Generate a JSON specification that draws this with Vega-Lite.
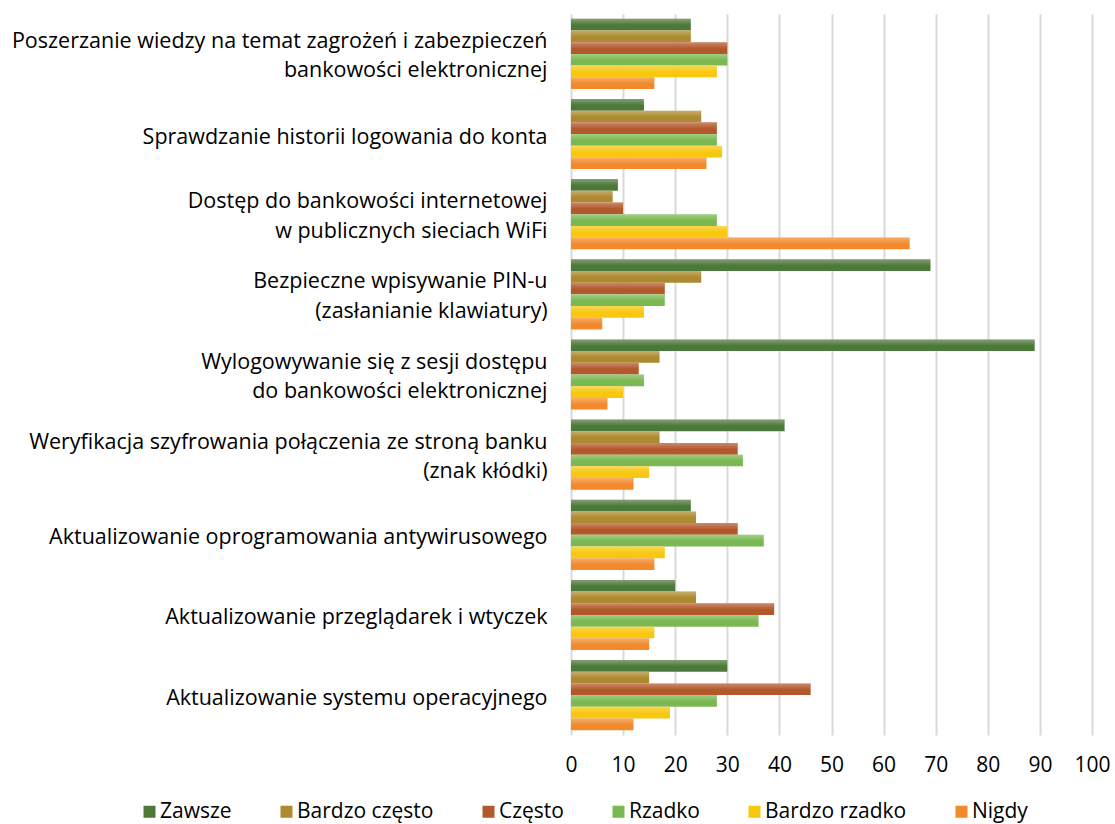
{
  "$schema": "https://vega.github.io/schema/vega-lite/v6.json",
  "width": 521,
  "height": 721,
  "autosize": "none",
  "padding": {"left": 571, "top": 14, "right": 23, "bottom": 89},
  "background": "white",
  "config": {
    "view": {"stroke": null},
    "font": "Open Sans",
    "axis": {"labelFont": "Open Sans", "labelColor": "#000000"},
    "legend": {"labelFont": "Open Sans", "labelColor": "#000000"}
  },
  "data": {
    "values": [
      {"cat": "Poszerzanie wiedzy na temat zagrożeń i zabezpieczeń|bankowości elektronicznej", "series": "Zawsze", "value": 23},
      {"cat": "Poszerzanie wiedzy na temat zagrożeń i zabezpieczeń|bankowości elektronicznej", "series": "Bardzo często", "value": 23},
      {"cat": "Poszerzanie wiedzy na temat zagrożeń i zabezpieczeń|bankowości elektronicznej", "series": "Często", "value": 30},
      {"cat": "Poszerzanie wiedzy na temat zagrożeń i zabezpieczeń|bankowości elektronicznej", "series": "Rzadko", "value": 30},
      {"cat": "Poszerzanie wiedzy na temat zagrożeń i zabezpieczeń|bankowości elektronicznej", "series": "Bardzo rzadko", "value": 28},
      {"cat": "Poszerzanie wiedzy na temat zagrożeń i zabezpieczeń|bankowości elektronicznej", "series": "Nigdy", "value": 16},
      {"cat": "Sprawdzanie historii logowania do konta", "series": "Zawsze", "value": 14},
      {"cat": "Sprawdzanie historii logowania do konta", "series": "Bardzo często", "value": 25},
      {"cat": "Sprawdzanie historii logowania do konta", "series": "Często", "value": 28},
      {"cat": "Sprawdzanie historii logowania do konta", "series": "Rzadko", "value": 28},
      {"cat": "Sprawdzanie historii logowania do konta", "series": "Bardzo rzadko", "value": 29},
      {"cat": "Sprawdzanie historii logowania do konta", "series": "Nigdy", "value": 26},
      {"cat": "Dostęp do bankowości internetowej|w publicznych sieciach WiFi", "series": "Zawsze", "value": 9},
      {"cat": "Dostęp do bankowości internetowej|w publicznych sieciach WiFi", "series": "Bardzo często", "value": 8},
      {"cat": "Dostęp do bankowości internetowej|w publicznych sieciach WiFi", "series": "Często", "value": 10},
      {"cat": "Dostęp do bankowości internetowej|w publicznych sieciach WiFi", "series": "Rzadko", "value": 28},
      {"cat": "Dostęp do bankowości internetowej|w publicznych sieciach WiFi", "series": "Bardzo rzadko", "value": 30},
      {"cat": "Dostęp do bankowości internetowej|w publicznych sieciach WiFi", "series": "Nigdy", "value": 65},
      {"cat": "Bezpieczne wpisywanie PIN-u|(zasłanianie klawiatury)", "series": "Zawsze", "value": 69},
      {"cat": "Bezpieczne wpisywanie PIN-u|(zasłanianie klawiatury)", "series": "Bardzo często", "value": 25},
      {"cat": "Bezpieczne wpisywanie PIN-u|(zasłanianie klawiatury)", "series": "Często", "value": 18},
      {"cat": "Bezpieczne wpisywanie PIN-u|(zasłanianie klawiatury)", "series": "Rzadko", "value": 18},
      {"cat": "Bezpieczne wpisywanie PIN-u|(zasłanianie klawiatury)", "series": "Bardzo rzadko", "value": 14},
      {"cat": "Bezpieczne wpisywanie PIN-u|(zasłanianie klawiatury)", "series": "Nigdy", "value": 6},
      {"cat": "Wylogowywanie się z sesji dostępu|do bankowości elektronicznej", "series": "Zawsze", "value": 89},
      {"cat": "Wylogowywanie się z sesji dostępu|do bankowości elektronicznej", "series": "Bardzo często", "value": 17},
      {"cat": "Wylogowywanie się z sesji dostępu|do bankowości elektronicznej", "series": "Często", "value": 13},
      {"cat": "Wylogowywanie się z sesji dostępu|do bankowości elektronicznej", "series": "Rzadko", "value": 14},
      {"cat": "Wylogowywanie się z sesji dostępu|do bankowości elektronicznej", "series": "Bardzo rzadko", "value": 10},
      {"cat": "Wylogowywanie się z sesji dostępu|do bankowości elektronicznej", "series": "Nigdy", "value": 7},
      {"cat": "Weryfikacja szyfrowania połączenia ze stroną banku|(znak kłódki)", "series": "Zawsze", "value": 41},
      {"cat": "Weryfikacja szyfrowania połączenia ze stroną banku|(znak kłódki)", "series": "Bardzo często", "value": 17},
      {"cat": "Weryfikacja szyfrowania połączenia ze stroną banku|(znak kłódki)", "series": "Często", "value": 32},
      {"cat": "Weryfikacja szyfrowania połączenia ze stroną banku|(znak kłódki)", "series": "Rzadko", "value": 33},
      {"cat": "Weryfikacja szyfrowania połączenia ze stroną banku|(znak kłódki)", "series": "Bardzo rzadko", "value": 15},
      {"cat": "Weryfikacja szyfrowania połączenia ze stroną banku|(znak kłódki)", "series": "Nigdy", "value": 12},
      {"cat": "Aktualizowanie oprogramowania antywirusowego", "series": "Zawsze", "value": 23},
      {"cat": "Aktualizowanie oprogramowania antywirusowego", "series": "Bardzo często", "value": 24},
      {"cat": "Aktualizowanie oprogramowania antywirusowego", "series": "Często", "value": 32},
      {"cat": "Aktualizowanie oprogramowania antywirusowego", "series": "Rzadko", "value": 37},
      {"cat": "Aktualizowanie oprogramowania antywirusowego", "series": "Bardzo rzadko", "value": 18},
      {"cat": "Aktualizowanie oprogramowania antywirusowego", "series": "Nigdy", "value": 16},
      {"cat": "Aktualizowanie przeglądarek i wtyczek", "series": "Zawsze", "value": 20},
      {"cat": "Aktualizowanie przeglądarek i wtyczek", "series": "Bardzo często", "value": 24},
      {"cat": "Aktualizowanie przeglądarek i wtyczek", "series": "Często", "value": 39},
      {"cat": "Aktualizowanie przeglądarek i wtyczek", "series": "Rzadko", "value": 36},
      {"cat": "Aktualizowanie przeglądarek i wtyczek", "series": "Bardzo rzadko", "value": 16},
      {"cat": "Aktualizowanie przeglądarek i wtyczek", "series": "Nigdy", "value": 15},
      {"cat": "Aktualizowanie systemu operacyjnego", "series": "Zawsze", "value": 30},
      {"cat": "Aktualizowanie systemu operacyjnego", "series": "Bardzo często", "value": 15},
      {"cat": "Aktualizowanie systemu operacyjnego", "series": "Często", "value": 46},
      {"cat": "Aktualizowanie systemu operacyjnego", "series": "Rzadko", "value": 28},
      {"cat": "Aktualizowanie systemu operacyjnego", "series": "Bardzo rzadko", "value": 19},
      {"cat": "Aktualizowanie systemu operacyjnego", "series": "Nigdy", "value": 12}
    ]
  },
  "encoding": {
    "y": {
      "field": "cat",
      "type": "nominal",
      "sort": null,
      "scale": {"paddingInner": 0.125, "paddingOuter": 0.06},
      "axis": {
        "title": null,
        "labelExpr": "split(datum.label, '|')",
        "labelFontSize": 21.5,
        "labelLineHeight": 29.5,
        "labelPadding": 24,
        "labelLimit": 600,
        "labelOffset": {"condition": {"test": "indexof(datum.value, '|') >= 0", "value": -12}, "value": 3.5},
        "ticks": false,
        "domain": false
      }
    },
    "yOffset": {
      "field": "series",
      "type": "nominal",
      "sort": ["Zawsze", "Bardzo często", "Często", "Rzadko", "Bardzo rzadko", "Nigdy"],
      "scale": {"paddingInner": 0, "paddingOuter": 0}
    },
    "x": {
      "field": "value",
      "type": "quantitative",
      "scale": {"domain": [0, 100], "nice": false},
      "axis": {
        "title": null,
        "values": [0, 10, 20, 30, 40, 50, 60, 70, 80, 90, 100],
        "labelFontSize": 21,
        "labelPadding": 19,
        "labelFlush": false,
        "labelOverlap": false,
        "ticks": false,
        "domain": false,
        "grid": true,
        "gridColor": "#D9D9D9",
        "gridWidth": 2
      }
    }
  },
  "layer": [
    {
      "mark": {"type": "bar"},
      "encoding": {
        "color": {
          "field": "series",
          "type": "nominal",
          "sort": ["Zawsze", "Bardzo często", "Często", "Rzadko", "Bardzo rzadko", "Nigdy"],
          "scale": {
            "domain": ["Zawsze", "Bardzo często", "Często", "Rzadko", "Bardzo rzadko", "Nigdy"],
            "range": ["#4C7838", "#AD8A2F", "#B3582A", "#7AB851", "#F8C70F", "#F28A2C"]
          },
          "legend": {
            "title": null,
            "orient": "none",
            "direction": "horizontal",
            "columns": 6,
            "legendX": -432,
            "legendY": 787,
            "symbolType": "square",
            "symbolSize": 144,
            "symbolStrokeWidth": 0,
            "labelFontSize": 21,
            "labelOffset": 0,
            "columnPadding": 44,
            "labelLimit": 300
          }
        }
      }
    },
    {
      "mark": {
        "type": "bar",
        "fill": {
          "gradient": "linear",
          "x1": 0, "y1": 0, "x2": 0, "y2": 1,
          "stops": [
            {"offset": 0, "color": "rgba(255,255,255,0.3)"},
            {"offset": 0.55, "color": "rgba(255,255,255,0)"},
            {"offset": 1, "color": "rgba(255,255,255,0)"}
          ]
        }
      },
      "encoding": {}
    }
  ]
}
